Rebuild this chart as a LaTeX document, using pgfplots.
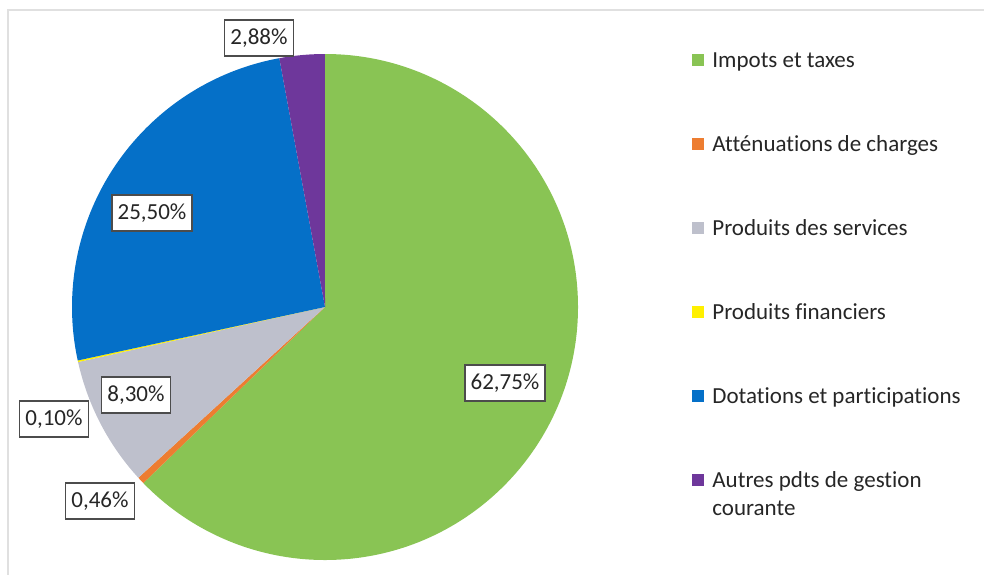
\documentclass[border=0pt]{standalone}
\usepackage{fontspec}
\setmainfont{Carlito}[Ligatures={NoCommon,NoContextual}]
\usepackage{pgfplots}
\usepackage{pgfplotstable}
\pgfplotsset{compat=1.18}

\definecolor{slice0}{RGB}{137,196,84}
\definecolor{slice1}{RGB}{237,125,49}
\definecolor{slice2}{RGB}{190,192,204}
\definecolor{slice3}{RGB}{255,240,0}
\definecolor{slice4}{RGB}{5,112,200}
\definecolor{slice5}{RGB}{110,55,155}

% shares in percent, clockwise from 12 o'clock
\pgfplotstableread{
name value
Impots 62.75
Attenuations 0.46
Services 8.30
Financiers 0.10
Dotations 25.50
Autres 2.88
}\piedata

\begin{document}
\begin{tikzpicture}[
  lbl/.style={draw=black!70, line width=0.6pt, fill=white, text=black!85,
    inner xsep=2.8pt, inner ysep=4.3pt, font=\fontsize{11.5}{14}\selectfont},
  leg/.style={anchor=base west, inner sep=0pt, text=black!85,
    font=\fontsize{11.5}{14}\selectfont}
]
\begin{axis}[
    width=492pt, height=287.5pt,
    scale only axis,
    xmin=0, xmax=984, ymin=0, ymax=575,
    hide axis,
    clip=false,
]
\addplot[draw=none] coordinates {(0,0) (984,575)};
\pgfplotsextra{
  \path[use as bounding box] (axis cs:0,0) rectangle (axis cs:984,575);
  % frame
  \draw[black!12, line width=0.8pt] (axis cs:8,0) -- (axis cs:8,565) -- (axis cs:984,565);
  % slices
  \gdef\cum{0}
  \pgfplotstableforeachcolumnelement{value}\of\piedata\as\v{%
    \pgfmathsetmacro\a{90-3.6*\cum}%
    \pgfmathsetmacro\b{90-3.6*(\cum+\v)}%
    \fill[slice\pgfplotstablerow] (axis cs:325,268) -- ++(\a:126.5pt)
      arc[start angle=\a, end angle=\b, radius=126.5pt] -- cycle;
    \pgfmathsetmacro\c{\cum+\v}\xdef\cum{\c}%
  }
  % data labels
  \node[lbl] at (axis cs:505,192) {62,75\%};
  \node[lbl] at (axis cs:152,362) {25,50\%};
  \node[lbl] at (axis cs:136,180) {8,30\%};
  \node[lbl] at (axis cs:54,156) {0,10\%};
  \node[lbl] at (axis cs:100,74) {0,46\%};
  \node[lbl] at (axis cs:259,537) {2,88\%};
  % legend
  \fill[slice0] (axis cs:692,509) rectangle (axis cs:704,521);
  \fill[slice1] (axis cs:692,425) rectangle (axis cs:704,437);
  \fill[slice2] (axis cs:692,341) rectangle (axis cs:704,353);
  \fill[slice3] (axis cs:692,257) rectangle (axis cs:704,269);
  \fill[slice4] (axis cs:692,173) rectangle (axis cs:704,185);
  \fill[slice5] (axis cs:692,89) rectangle (axis cs:704,101);
  \node[leg] at (axis cs:712,508) {Impots et taxes};
  \node[leg] at (axis cs:712,424) {Atténuations de charges};
  \node[leg] at (axis cs:712,340) {Produits des services};
  \node[leg] at (axis cs:712,256) {Produits financiers};
  \node[leg] at (axis cs:712,172) {Dotations et participations};
  \node[leg] at (axis cs:712,88) {Autres pdts de gestion};
  \node[leg] at (axis cs:712,60) {courante};
}
\end{axis}
\end{tikzpicture}
\end{document}
